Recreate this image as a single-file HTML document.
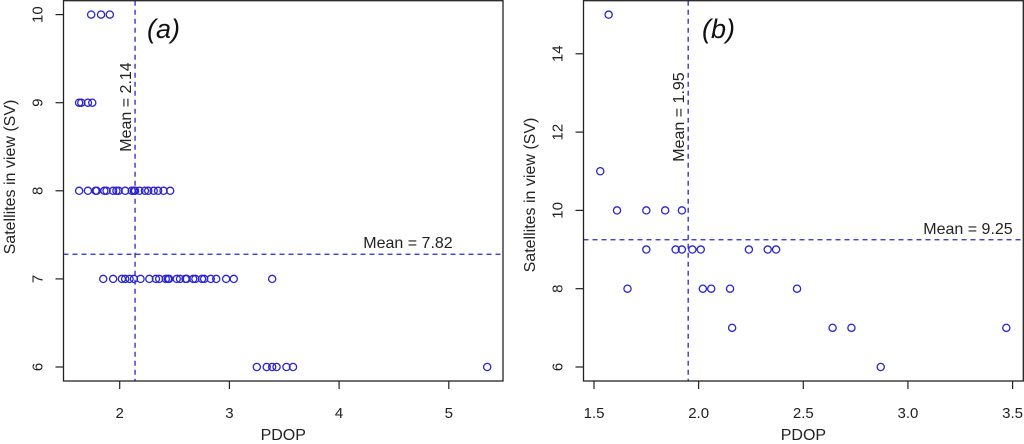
<!DOCTYPE html>
<html><head><meta charset="utf-8"><style>
html,body{margin:0;padding:0;background:#fff;}
svg{display:block;font-family:"Liberation Sans",sans-serif;}
</style></head><body>
<svg id="chart" width="1024" height="444" viewBox="0 0 1024 444" xmlns="http://www.w3.org/2000/svg"></svg>
<script>
// Panel (a) data
const aX10 = [1.74,1.83,1.91];
const aX9 = [1.63,1.65,1.71,1.75];
const aX8 = [1.63,1.71,1.78,1.79,1.86,1.88,1.94,1.97,1.99,2.05,2.11,2.13,2.14,2.18,2.23,2.26,2.31,2.35,2.40,2.46];
const aX7 = [1.85,1.94,2.02,2.05,2.09,2.13,2.19,2.27,2.33,2.36,2.42,2.44,2.45,2.52,2.55,2.60,2.61,2.67,2.69,2.75,2.77,2.83,2.88,2.97,3.04,3.39];
const aX6 = [3.25,3.34,3.39,3.43,3.52,3.58,5.35];
const aXTicks = [2,3,4,5];
const aYTicks = [6,7,8,9,10];
const aMeanX = 2.14, aMeanYLine = 7.28, aMeanYLabel = "7.82";
// Panel (b) data
const bX = [1.57,1.53,1.61,1.75,1.84,1.92,1.75,1.89,1.92,1.97,2.01,2.24,2.33,2.37,1.66,2.02,2.06,2.15,2.47,2.16,2.64,2.73,3.47,2.87];
const bY = [15,11,10,10,10,10,9,9,9,9,9,9,9,9,8,8,8,8,8,7,7,7,7,6];
const bXTicks = [1.5,2.0,2.5,3.0,3.5];
const bYTicks = [6,8,10,12,14];
const bMeanX = 1.95, bMeanY = 9.25;

const svg = document.getElementById('chart');
const NS = 'http://www.w3.org/2000/svg';
function mk(tag, attrs, parent){const e=document.createElementNS(NS,tag);for(const k in attrs)e.setAttribute(k,attrs[k]);(parent||svg).appendChild(e);return e;}
const BLUE = '#2a24d0';

function panel(cfg){
  const g = mk('g',{});
  
  
  const sx = v => cfg.x0px + (v - cfg.x0v) * cfg.xs;
  const sy = v => cfg.y0px - (v - cfg.y0v) * cfg.ys;
  // points
  cfg.points.forEach(p=>{
    const c = mk('circle',{cx:sx(p[0]),cy:sy(p[1]),r:3.6,fill:'none',stroke:BLUE,'stroke-width':1.3},g);
    
    
  });
  // mean lines
  const vl = mk('line',{x1:sx(cfg.meanX),x2:sx(cfg.meanX),y1:cfg.top,y2:cfg.bottom,stroke:BLUE,'stroke-width':1.3,'stroke-dasharray':'5,4'},g);
  
  
  const hl = mk('line',{x1:cfg.left,x2:cfg.right,y1:sy(cfg.meanY),y2:sy(cfg.meanY),stroke:BLUE,'stroke-width':1.3,'stroke-dasharray':'5,4'},g);
  
  
  // box
  const box = mk('rect',{x:cfg.left,y:cfg.top,width:cfg.right-cfg.left,height:cfg.bottom-cfg.top,fill:'none',stroke:'#222','stroke-width':1.3},g);
  
  
  // x ticks
  cfg.xTicks.forEach(t=>{
    const x = sx(t);
    mk('line',{x1:x,x2:x,y1:cfg.bottom,y2:cfg.bottom+8,stroke:'#222','stroke-width':1.2},g);
    const tx = mk('text',{x:x,y:418,'font-size':15,'text-anchor':'middle',fill:'#222'},g);
    tx.textContent = cfg.xFmt(t);
    
    
  });
  // y ticks
  cfg.yTicks.forEach(t=>{
    const y = sy(t);
    mk('line',{x1:cfg.left,x2:cfg.left-8,y1:y,y2:y,stroke:'#222','stroke-width':1.2},g);
    const tx = mk('text',{x:0,y:0,'font-size':15,'text-anchor':'middle',fill:'#222',transform:`translate(${cfg.left-21},${y}) rotate(-90)`},g);
    tx.textContent = t;
    
    
  });
  const xt = mk('text',{x:(cfg.left+cfg.right)/2,y:440,'font-size':16,'text-anchor':'middle',fill:'#222'},g);
  xt.textContent='PDOP';
  
  
  const yt = mk('text',{x:0,y:0,'font-size':16,'text-anchor':'middle',fill:'#222',transform:`translate(${cfg.yTitleX},${cfg.yTitleY}) rotate(-90)`},g);
  yt.textContent='Satellites in view (SV)';
  
  
  const ml = mk('text',{x:0,y:0,'font-size':16,'text-anchor':'middle',fill:'#222',transform:`translate(${sx(cfg.meanX)-4},${cfg.vLabelY}) rotate(-90)`},g);
  ml.textContent='Mean = '+cfg.meanXLabel;
  
  
  const hlab = mk('text',{x:cfg.hLabelX,y:sy(cfg.meanY)-6,'font-size':16,'text-anchor':'middle',fill:'#222'},g);
  hlab.textContent='Mean = '+cfg.meanYLabel;
  
  
  const pl = mk('text',{x:cfg.panelX,y:38,'font-size':27,'font-style':'italic',fill:'#111'},g);
  pl.textContent=cfg.panelLabel;
  
  
}

const aPts = [];
aX10.forEach(x=>aPts.push([x,10]));
aX9.forEach(x=>aPts.push([x,9]));
aX8.forEach(x=>aPts.push([x,8]));
aX7.forEach(x=>aPts.push([x,7]));
aX6.forEach(x=>aPts.push([x,6]));
panel({name:'panel-a',points:aPts,left:63.5,right:503,top:0.7,bottom:381,
  x0px:119.7,x0v:2,xs:109.7,y0px:367,y0v:6,ys:88.1,
  xTicks:aXTicks,yTicks:aYTicks,xFmt:t=>String(t),
  meanX:aMeanX,meanY:aMeanYLine,meanXLabel:aMeanX.toFixed(2),meanYLabel:aMeanYLabel,
  vLabelY:107,hLabelX:408,yTitleX:15,yTitleY:177,panelLabel:'(a)',panelX:147});

const bPts = bX.map((x,i)=>[x,bY[i]]);
panel({name:'panel-b',points:bPts,left:583.5,right:1023.3,top:0.7,bottom:381,
  x0px:594,x0v:1.5,xs:209.3,y0px:367,y0v:6,ys:39.15,
  xTicks:bXTicks,yTicks:bYTicks,xFmt:t=>t.toFixed(1),
  meanX:bMeanX,meanY:bMeanY,meanXLabel:bMeanX.toFixed(2),meanYLabel:bMeanY.toFixed(2),
  vLabelY:117,hLabelX:968,yTitleX:535,yTitleY:195,panelLabel:'(b)',panelX:702});
</script>
</body></html>
